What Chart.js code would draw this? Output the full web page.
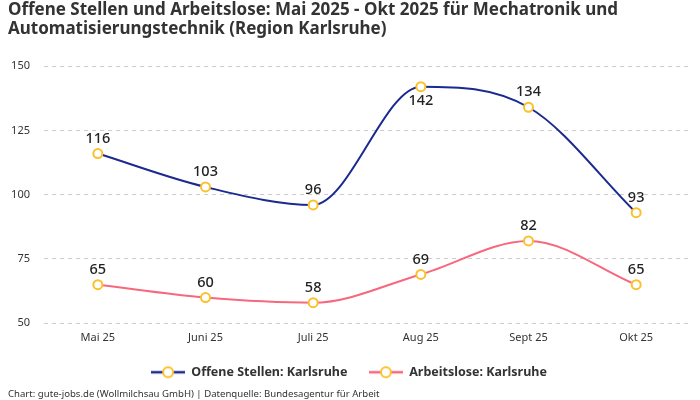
<!DOCTYPE html>
<html>
<head>
<meta charset="utf-8">
<script src="https://cdn.jsdelivr.net/npm/chart.js@4/dist/chart.umd.min.js"></script>
<style>
  html, body { margin: 0; padding: 0; background: #fff; }
  #wrap { width: 700px; height: 400px; position: relative; }
</style>
</head>
<body>
<div id="wrap"><canvas id="chart"></canvas></div>
<script>
const months = ['Mai 25', 'Juni 25', 'Juli 25', 'Aug 25', 'Sept 25', 'Okt 25'];
const offeneStellen = [116, 103, 96, 142, 134, 93];
const arbeitslose = [65, 60, 58, 69, 82, 65];
const yTicks = [50, 75, 100, 125, 150];

const FONT = "'Noto Sans', sans-serif";
const navy = '#1b2a8f';
const pink = '#f7687f';
const yellow = '#fbc02d';

// legend marker: line with a ring in the middle
function legendMarker(color) {
  const c = document.createElement('canvas');
  c.width = 34;
  c.height = 14;
  const ctx = c.getContext('2d');
  ctx.strokeStyle = color;
  ctx.lineWidth = 2.5;
  ctx.beginPath();
  ctx.moveTo(0, 7);
  ctx.lineTo(34, 7);
  ctx.stroke();
  ctx.beginPath();
  ctx.arc(17, 7, 5, 0, Math.PI * 2);
  ctx.fillStyle = '#fff';
  ctx.fill();
  ctx.strokeStyle = yellow;
  ctx.lineWidth = 2;
  ctx.stroke();
  return c;
}

const valueLabels = {
  id: 'valueLabels',
  afterDatasetsDraw(chart) {
    const ctx = chart.ctx;
    const area = chart.chartArea;
    ctx.save();
    ctx.font = '500 14.5px ' + FONT;
    ctx.fillStyle = '#222';
    ctx.textAlign = 'center';
    ctx.textBaseline = 'middle';
    chart.data.datasets.forEach((ds, i) => {
      const meta = chart.getDatasetMeta(i);
      meta.data.forEach((pt, j) => {
        let y = pt.y - 15;
        if (pt.y - 24 < area.top) y = pt.y + 14;
        ctx.fillText(String(ds.data[j]), pt.x, y);
      });
    });
    ctx.restore();
  }
};

const lineDefaults = {
  borderWidth: 2,
  cubicInterpolationMode: 'monotone',
  pointRadius: 4.5,
  pointHoverRadius: 4.5,
  pointBackgroundColor: '#fff',
  pointBorderColor: yellow,
  pointBorderWidth: 2,
  fill: false
};

new Chart(document.getElementById('chart'), {
  type: 'line',
  data: {
    labels: months,
    datasets: [
      Object.assign({ label: 'Offene Stellen: Karlsruhe', data: offeneStellen, borderColor: navy, backgroundColor: navy }, lineDefaults),
      Object.assign({ label: 'Arbeitslose: Karlsruhe', data: arbeitslose, borderColor: pink, backgroundColor: pink }, lineDefaults)
    ]
  },
  options: {
    responsive: true,
    maintainAspectRatio: false,
    animation: false,
    layout: { padding: { left: 8, right: 10, top: 0, bottom: 0 } },
    plugins: {
      title: {
        display: true,
        align: 'start',
        text: ['Offene Stellen und Arbeitslose: Mai 2025 - Okt 2025 für Mechatronik und', 'Automatisierungstechnik (Region Karlsruhe)'],
        color: '#333',
        font: { family: FONT, size: 17, weight: 'bold', lineHeight: 1.15 },
        padding: { top: 0, bottom: 27 }
      },
      subtitle: {
        display: true,
        position: 'bottom',
        align: 'start',
        text: 'Chart: gute-jobs.de (Wollmilchsau GmbH) | Datenquelle: Bundesagentur für Arbeit',
        color: '#333',
        font: { family: FONT, size: 9.6 },
        padding: { top: 0, bottom: 0 }
      },
      legend: {
        position: 'bottom',
        labels: {
          usePointStyle: true,
          pointStyleWidth: 34,
          color: '#333',
          font: { family: FONT, size: 12.5, weight: 'bold' },
          padding: 21.5,
          generateLabels(chart) {
            return chart.data.datasets.map((ds, i) => ({
              text: ds.label,
              pointStyle: legendMarker(ds.borderColor),
              fillStyle: ds.borderColor,
              strokeStyle: ds.borderColor,
              lineWidth: 0,
              hidden: false,
              datasetIndex: i,
              fontColor: '#333'
            }));
          }
        }
      },
      tooltip: { enabled: false }
    },
    scales: {
      x: {
        offset: true,
        grid: { display: false },
        border: { display: false },
        ticks: { color: '#333', font: { family: FONT, size: 11 }, padding: 0 }
      },
      y: {
        min: 50,
        max: 150,
        afterBuildTicks(axis) {
          axis.ticks = yTicks.map(v => ({ value: v }));
        },
        afterFit(axis) {
          axis.width = 36;
        },
        grid: { color: '#cccccc', drawTicks: false },
        border: { display: false, dash: [4, 4] },
        ticks: { color: '#333', font: { family: FONT, size: 11 }, padding: 14 }
      }
    }
  },
  plugins: [valueLabels]
});
</script>
</body>
</html>
